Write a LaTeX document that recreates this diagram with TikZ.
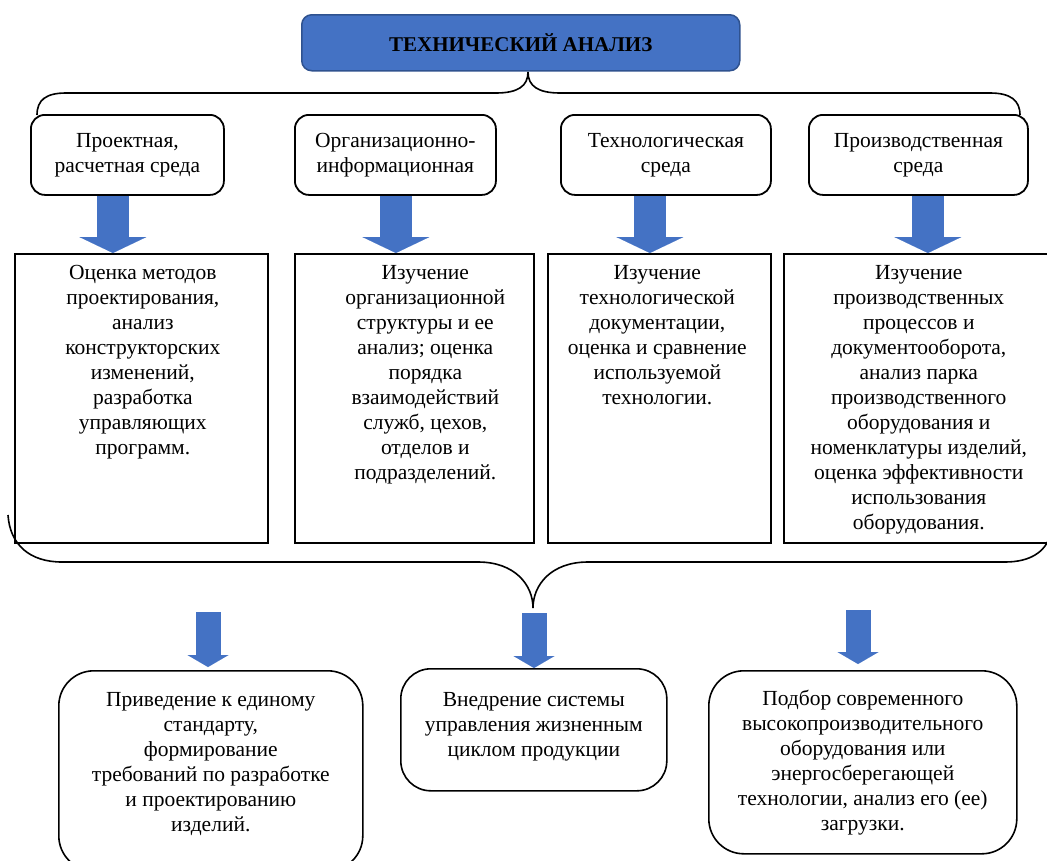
\documentclass[tikz,border=0pt]{standalone}
\usepackage{fontspec}
\setmainfont{Liberation Serif}
\usetikzlibrary{positioning,arrows.meta}
\definecolor{boxblue}{HTML}{4472C4}
\definecolor{edgeblue}{HTML}{2F528F}
\tikzstyle{title}    =[draw=edgeblue, fill=boxblue, rounded corners=10pt,
                       line width=1.5pt, anchor=north west,
                       font=\fontsize{21}{25}\selectfont\bfseries]
\tikzstyle{envbox}   =[draw, rounded corners=14pt, line width=1.8pt,
                       align=center, anchor=north west]
\tikzstyle{studybox} =[draw, line width=1.6pt, anchor=north west]
\tikzstyle{resultbox}=[draw, rounded corners=35pt, line width=1.6pt,
                       anchor=north west]
\tikzstyle{txt}      =[inner sep=0pt, align=center]
\tikzstyle{bigarrow} =[line width=32pt, boxblue,
                       -{Triangle[width=67pt, length=16pt, line width=0.01pt]}]
\tikzstyle{smallarrow}=[line width=25pt, boxblue,
                       -{Triangle[width=41pt, length=12pt, line width=0.01pt]}]
\tikzstyle{brace}    =[line width=1.6pt]

\begin{document}
\begin{tikzpicture}[x=1pt, y=-1pt,
            every node/.append style={font=\fontsize{21.5}{25}\selectfont}]
            \useasboundingbox (0,0) rectangle (1047,860);

            % title
            \node[title, minimum width=438, minimum height=56] (ta) at (301,14) {ТЕХНИЧЕСКИЙ АНАЛИЗ};
            \coordinate (tb) at (528,72);

            % environments
            \node[envbox, minimum width=193, minimum height=80] (p1) at (30,114) {Проектная,\\расчетная среда};
            \node[envbox, minimum width=201, minimum height=80] (p2) at (294,114) {Организационно-\\информационная};
            \node[envbox, minimum width=210, minimum height=80] (p3) at (560,114) {Технологическая\\среда};
            \node[envbox, minimum width=219, minimum height=80] (p4) at (808,114) {Производственная\\среда};

            % studies
            \node[studybox, minimum width=253, minimum height=289] (r1) at (14,253) {};
            \node[studybox, minimum width=239, minimum height=289] (r2) at (294,253) {};
            \node[studybox, minimum width=223, minimum height=289] (r3) at (547,253) {};
            \node[studybox, minimum width=270, minimum height=289] (r4) at (783,253) {};
            \node[txt, below=12pt of r1.north, xshift=1.5pt] (r1t) {Оценка методов\\проектирования,\\анализ\\конструкторских\\изменений,\\разработка\\управляющих\\программ.};
            \node[txt, below=12pt of r2.north, xshift=11pt] (r2t) {Изучение\\организационной\\структуры и ее\\анализ; оценка\\порядка\\взаимодействий\\служб, цехов,\\отделов и\\подразделений.};
            \node[txt, below=12pt of r3.north, xshift=-2pt] (r3t) {Изучение\\технологической\\документации,\\оценка и сравнение\\используемой\\технологии.};
            \node[txt, below=12pt of r4.north] (r4t) {Изучение\\производственных\\процессов и\\документооборота,\\анализ парка\\производственного\\оборудования и\\номенклатуры изделий,\\оценка эффективности\\использования\\оборудования.};
            \coordinate (bb) at (533,608);

            % results
            \node[resultbox, minimum width=304, minimum height=200] (b1) at (58,670) {};
            \node[resultbox, minimum width=266, minimum height=122, rounded corners=30pt] (b2) at (400,668) {};
            \node[resultbox, minimum width=308, minimum height=183] (b3) at (708,670) {};
            \node[txt, below=22pt of b1.north] (b1t) {Приведение к единому\\стандарту,\\формирование\\требований по разработке\\и проектированию\\изделий.};
            \node[txt, below=24pt of b2.north] (b2t) {Внедрение системы\\управления жизненным\\циклом продукции};
            \node[txt, below=20pt of b3.north] (b3t) {Подбор современного\\высокопроизводительного\\оборудования или\\энергосберегающей\\технологии, анализ его (ее)\\загрузки.};

            % braces
            \draw[brace] (37,115) .. controls (37,100) and (46,93) .. (66,93) -- (496,93)
                .. controls (518,93) and (528,86) .. (tb)
                .. controls (528,86) and (538,93) .. (560,93) -- (990,93)
                .. controls (1010,93) and (1020,100) .. (1020,115);
            \draw[brace] (8,515) .. controls (10,545) and (30,562) .. (62,562) -- (478,562)
                .. controls (515,562) and (533,585) .. (bb)
                .. controls (533,585) and (551,562) .. (588,562) -- (1005,562)
                .. controls (1030,562) and (1045,552) .. (1050,536);

            % arrows
            \coordinate (a1) at ([xshift=-14.5pt]p1.south);
            \coordinate (a2) at ([xshift=0.5pt]p2.south);
            \coordinate (a3) at ([xshift=-16pt]p3.south);
            \coordinate (a4) at ([xshift=9.5pt]p4.south);
            \draw[bigarrow] (a1) -- (a1 |- r1.north);
            \draw[bigarrow] (a2) -- (a2 |- r2.north);
            \draw[bigarrow] (a3) -- (a3 |- r3.north);
            \draw[bigarrow] (a4) -- (a4 |- r4.north);
            \coordinate (c1) at (208,612);
            \coordinate (c2) at (534,613);
            \coordinate (c3) at (858,610);
            \draw[smallarrow] (c1) -- ([yshift=3pt]c1 |- b1.north);
            \draw[smallarrow] (c2) -- (c2 |- b2.north);
            \draw[smallarrow] (c3) -- ([yshift=6pt]c3 |- b3.north);

        \end{tikzpicture}
\end{document}
